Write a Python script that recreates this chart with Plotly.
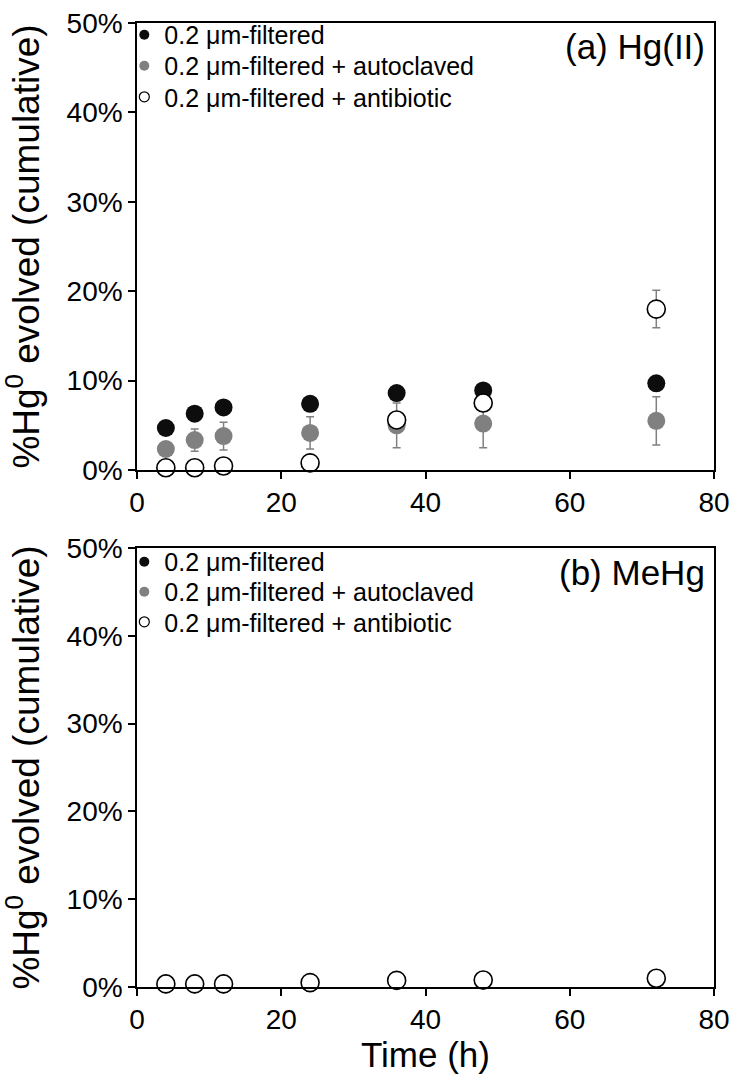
import plotly.graph_objects as go

# ---------------- data ----------------
time_h = [4, 8, 12, 24, 36, 48, 72]

# (a) Hg(II)  values in %
hg_filtered = [4.7, 6.3, 7.0, 7.4, 8.6, 8.9, 9.7]
hg_filtered_err = [0, 0, 0, 0, 0, 0, 0]
hg_autoclaved = [2.35, 3.35, 3.8, 4.15, 5.0, 5.2, 5.5]
hg_autoclaved_err = [0.0, 1.25, 1.55, 1.8, 2.5, 2.7, 2.7]
hg_antibiotic = [0.25, 0.25, 0.45, 0.8, 5.6, 7.5, 18.0]
hg_antibiotic_err = [0, 0, 0, 0, 0, 0, 2.1]

# (b) MeHg  values in %
mehg_filtered = [0.3, 0.3, 0.3, 0.45, 0.7, 0.75, 0.95]
mehg_autoclaved = [0.3, 0.3, 0.3, 0.45, 0.7, 0.75, 0.95]
mehg_antibiotic = [0.35, 0.35, 0.35, 0.5, 0.75, 0.8, 1.0]

series_names = ["0.2 μm-filtered",
                "0.2 μm-filtered + autoclaved",
                "0.2 μm-filtered + antibiotic"]
panel_labels = ["(a) Hg(II)", "(b) MeHg"]
x_ticks = [0, 20, 40, 60, 80]
y_ticks = [0, 0.1, 0.2, 0.3, 0.4, 0.5]

# ---------------- styles ----------------
FONT = "Liberation Sans, Arial, sans-serif"
BLACK = "#0d0d0d"
GRAY = "#808080"
MS = 18

styles = [
    dict(color=BLACK, line=dict(width=0, color=BLACK)),
    dict(color=GRAY, line=dict(width=0, color=GRAY)),
    dict(color="white", line=dict(width=1.6, color="black")),
]

def pct(v):
    return [x / 100.0 for x in v]

fig = go.Figure()

# legend rows (paper y of each row centre) for each panel
legend_rows = [[0.9876, 0.9554, 0.9232], [0.4409, 0.4098, 0.3786]]

panels = [
    ("x", "y", [hg_filtered, hg_autoclaved, hg_antibiotic],
     [hg_filtered_err, hg_autoclaved_err, hg_antibiotic_err]),
    ("x2", "y2", [mehg_filtered, mehg_autoclaved, mehg_antibiotic],
     [None, None, None]),
]

legend_layouts = {}
leg_index = 1
for p, (xa, ya, vals, errs) in enumerate(panels):
    for i in range(3):
        err = None
        if errs[i] is not None:
            err = dict(type="data", array=pct(errs[i]), visible=True,
                       color=GRAY, thickness=1.5, width=4)
        fig.add_trace(go.Scatter(
            x=time_h, y=pct(vals[i]), mode="markers",
            marker=dict(size=MS, **styles[i]),
            error_y=err, xaxis=xa, yaxis=ya, showlegend=False,
            cliponaxis=False, name=series_names[i]))
    # legend entries (small symbols), one legend box per row
    for i in range(3):
        st = dict(styles[i])
        if i == 2:
            st = dict(color="white", line=dict(width=1.2, color="black"))
        leg = "legend" if leg_index == 1 else f"legend{leg_index}"
        fig.add_trace(go.Scatter(
            x=[None], y=[None], mode="markers",
            marker=dict(size=10, **st), name=series_names[i],
            xaxis=xa, yaxis=ya, legend=leg, showlegend=True))
        legend_layouts[leg] = dict(
            x=-0.022, y=legend_rows[p][i], xanchor="left", yanchor="middle",
            bgcolor="rgba(0,0,0,0)", itemwidth=30,
            font=dict(family=FONT, size=25, color="black"))
        leg_index += 1

axis_common = dict(
    showline=True, linecolor="black", linewidth=1.5, mirror=True,
    ticks="outside", ticklen=7, tickwidth=1.5, tickcolor="black",
    showgrid=False, zeroline=False, ticklabeloverflow="allow",
    automargin=False,
    tickfont=dict(family=FONT, size=28, color="black"),
)

ytitle = "%Hg<sup>0</sup> evolved (cumulative)"
TITLE_FONT = dict(family=FONT, size=37, color="black")
XTITLE_FONT = dict(family=FONT, size=35, color="black")

fig.update_layout(
    width=729, height=1080,
    margin=dict(l=137, r=15, t=23, b=93, autoexpand=False),
    paper_bgcolor="white", plot_bgcolor="white",
    font=dict(family=FONT, color="black"),
    xaxis=dict(domain=[0, 1], anchor="y", range=[0, 80], tickvals=x_ticks, **axis_common),
    yaxis=dict(domain=[0.5363, 1], anchor="x", range=[0, 0.5], tickvals=y_ticks,
               tickformat=".0%",
               title=dict(text=ytitle, font=TITLE_FONT, standoff=16),
               **axis_common),
    xaxis2=dict(domain=[0, 1], anchor="y2", range=[0, 80], tickvals=x_ticks,
                title=dict(text="Time (h)", font=XTITLE_FONT, standoff=0),
                **axis_common),
    yaxis2=dict(domain=[0, 0.4554], anchor="x2", range=[0, 0.5], tickvals=y_ticks,
                tickformat=".0%",
                title=dict(text=ytitle, font=TITLE_FONT, standoff=16),
                **axis_common),
    annotations=[
        dict(text=panel_labels[0], xref="x domain", yref="y domain", x=0.988, y=0.947,
             xanchor="right", yanchor="middle", showarrow=False,
             font=dict(family=FONT, size=35, color="black")),
        dict(text=panel_labels[1], xref="x2 domain", yref="y2 domain", x=0.988, y=0.945,
             xanchor="right", yanchor="middle", showarrow=False,
             font=dict(family=FONT, size=35, color="black")),
    ],
)
fig.update_layout(**legend_layouts)

fig.write_html("out.html")
